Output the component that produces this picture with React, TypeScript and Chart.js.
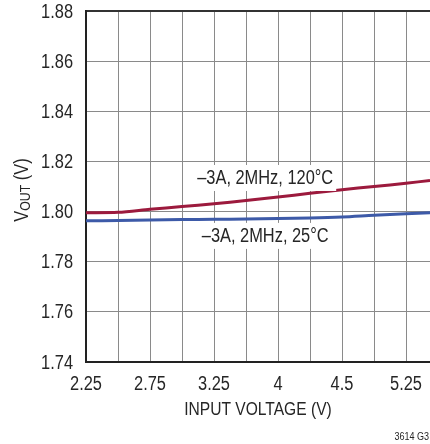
import React, { useEffect, useRef } from "react";
import { Chart, registerables } from "chart.js";

Chart.register(...registerables);

const FONT = "'Liberation Sans', Arial, sans-serif";
const NARROW = 0.82; // horizontal squeeze to mimic a condensed face
const TEXT = "#262626";

// x positions are grid-line indices (the original axis labels are not evenly spaced)
const xGrid = [0, 1, 2, 3, 4, 5, 6, 7, 8, 9, 10];
const xTickLabels = ["2.25", "2.75", "3.25", "4", "4.5", "5.25"];
const yTicks = [1.74, 1.76, 1.78, 1.8, 1.82, 1.84, 1.86, 1.88];

const xIndex = [0, 1, 2, 3, 4, 5, 6, 7, 8, 9, 10, 10.75];
const hot120 = [1.7995, 1.7997, 1.8009, 1.802, 1.8031, 1.8044, 1.8058, 1.8073, 1.8087, 1.81, 1.8113, 1.8124];
const room25 = [1.7963, 1.7964, 1.7966, 1.7968, 1.7969, 1.797, 1.7972, 1.7974, 1.7978, 1.7985, 1.7991, 1.7995];

const seriesNames = ["–3A, 2MHz, 120°C", "–3A, 2MHz, 25°C"];
const seriesColors = ["#9c1a3d", "#3d5aa8"];
const labelAnchors = [
  { x: 5.6, y: 1.8134 },
  { x: 5.6, y: 1.7903 },
];

function narrowText(ctx: any, t: string, x: number, y: number, size: number, align: "left" | "center" | "right") {
  ctx.save();
  ctx.font = `${size}px ${FONT}`;
  ctx.textBaseline = "middle";
  ctx.textAlign = align;
  ctx.translate(x, y);
  ctx.scale(NARROW, 1);
  ctx.fillText(t, 0, 0);
  ctx.restore();
}

function narrowWidth(ctx: any, t: string, size: number) {
  ctx.save();
  ctx.font = `${size}px ${FONT}`;
  const w = ctx.measureText(t).width * NARROW;
  ctx.restore();
  return w;
}

const annotPlugin = {
  id: "annot",
  afterDraw(chart: any) {
    const { ctx, scales, chartArea } = chart;
    const x = scales.x;
    const y = scales.y;
    ctx.save();
    ctx.fillStyle = TEXT;
    // tick labels
    yTicks.forEach((v) => {
      narrowText(ctx, v.toFixed(2), chartArea.left - 13, y.getPixelForValue(v) + 1, 20, "right");
    });
    xTickLabels.forEach((t, i) => {
      narrowText(ctx, t, x.getPixelForValue(i * 2), chartArea.bottom + 22, 20, "center");
    });
    // series labels with white boxes
    seriesNames.forEach((t, i) => {
      const px = x.getPixelForValue(labelAnchors[i].x);
      const py = y.getPixelForValue(labelAnchors[i].y);
      const w = narrowWidth(ctx, t, 20);
      ctx.fillStyle = "#ffffff";
      ctx.fillRect(px - w / 2 - 3, py - 13, w + 6, 26);
      ctx.fillStyle = TEXT;
      narrowText(ctx, t, px, py + 1, 20, "center");
    });
    // x title
    narrowText(ctx, "INPUT VOLTAGE (V)", (chartArea.left + chartArea.right) / 2, 410, 19, "center");
    // y title with subscript
    ctx.save();
    ctx.translate(22, 190);
    ctx.rotate(-Math.PI / 2);
    const wV = narrowWidth(ctx, "V", 20);
    const wO = narrowWidth(ctx, "OUT", 15);
    const wP = narrowWidth(ctx, " (V)", 20);
    let cx = -(wV + wO + wP) / 2;
    narrowText(ctx, "V", cx, 0, 20, "left");
    cx += wV;
    narrowText(ctx, "OUT", cx, 4, 15, "left");
    cx += wO;
    narrowText(ctx, " (V)", cx, 0, 20, "left");
    ctx.restore();
    // footnote
    narrowText(ctx, "3614 G3", 429, 437, 11, "right");
    ctx.restore();
  },
};

export default function App() {
  const ref = useRef<HTMLCanvasElement>(null);
  useEffect(() => {
    const canvas = ref.current!;
    const chart = new Chart(canvas, {
      type: "line",
      data: {
        datasets: [
          {
            label: seriesNames[0],
            data: xIndex.map((v, i) => ({ x: v, y: hot120[i] })),
            borderColor: seriesColors[0],
            borderWidth: 3,
            pointRadius: 0,
            tension: 0.3,
          },
          {
            label: seriesNames[1],
            data: xIndex.map((v, i) => ({ x: v, y: room25[i] })),
            borderColor: seriesColors[1],
            borderWidth: 3,
            pointRadius: 0,
            tension: 0.3,
          },
        ],
      },
      options: {
        animation: false,
        responsive: false,
        layout: { padding: { left: 0, top: 11, right: 0, bottom: 0 } },
        plugins: { legend: { display: false }, tooltip: { enabled: false } },
        scales: {
          x: {
            type: "linear",
            min: 0,
            max: 10.75,
            afterBuildTicks: (s: any) => {
              s.ticks = xGrid.map((v) => ({ value: v }));
            },
            afterFit: (s: any) => {
              s.height = 82;
            },
            ticks: { display: false },
            grid: { color: "#8a8a8a", lineWidth: 1, drawTicks: false },
            border: { color: "#222", width: 2 },
          },
          y: {
            type: "linear",
            min: yTicks[0],
            max: yTicks[yTicks.length - 1],
            afterBuildTicks: (s: any) => {
              s.ticks = yTicks.map((v) => ({ value: v }));
            },
            afterFit: (s: any) => {
              s.width = 86;
            },
            ticks: { display: false },
            grid: {
              color: (c: any) => (c.tick && Math.abs(c.tick.value - 1.88) < 1e-6 ? "#333" : "#8a8a8a"),
              lineWidth: (c: any) => (c.tick && Math.abs(c.tick.value - 1.88) < 1e-6 ? 2 : 1),
              drawTicks: false,
            },
            border: { color: "#222", width: 2 },
          },
        },
      },
      plugins: [annotPlugin],
    });
    return () => chart.destroy();
  }, []);
  return (
    <div style={{ position: "absolute", left: 0, top: 0, width: 430, height: 444, background: "#fff" }}>
      <canvas ref={ref} width={430} height={444} style={{ display: "block" }} />
    </div>
  );
}
